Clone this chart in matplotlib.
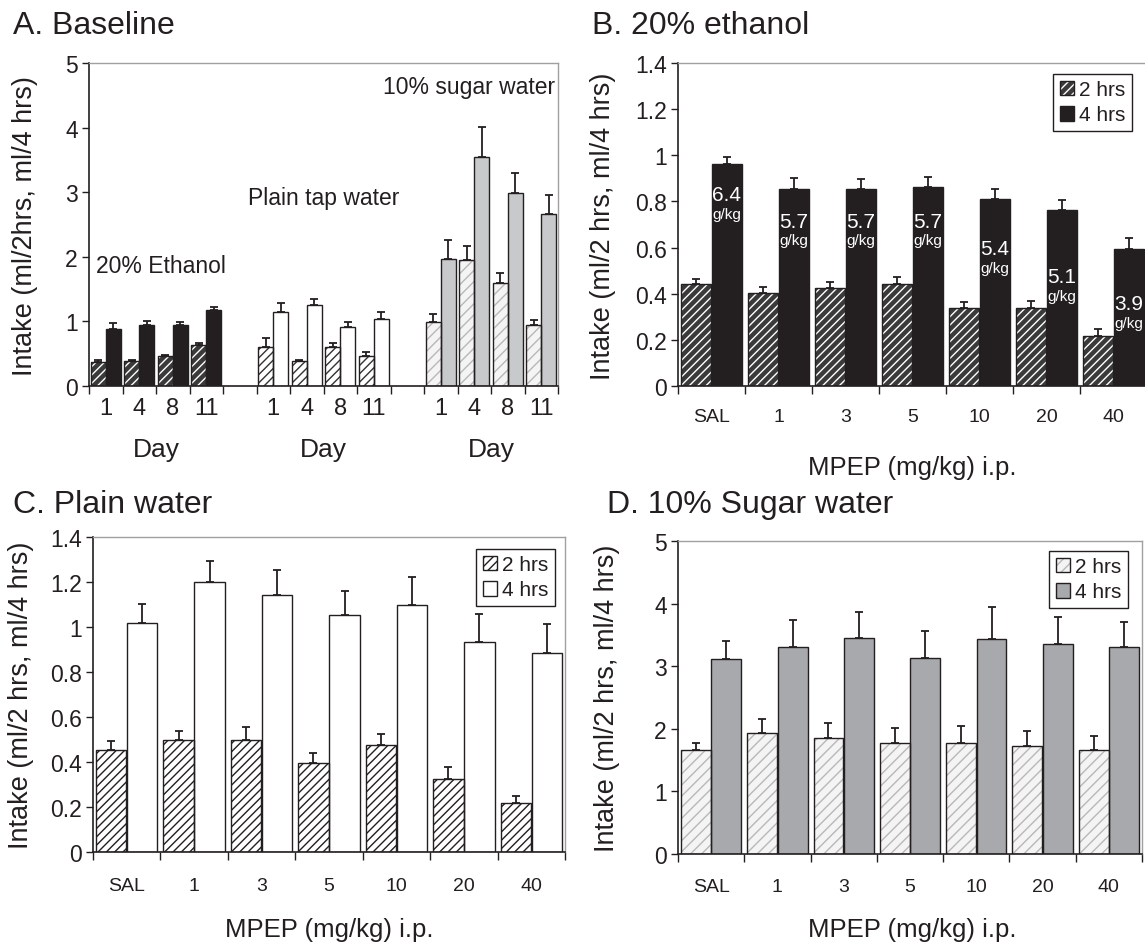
import numpy as np
import matplotlib
matplotlib.use("Agg")
import matplotlib.pyplot as plt
import matplotlib.patches as mpatches
import matplotlib.transforms as mtransforms
from matplotlib.ticker import FixedLocator, FormatStrFormatter

# ---------------------------------------------------------------------------
# DATA
# ---------------------------------------------------------------------------
days = ["1", "4", "8", "11"]
doses = ["SAL", "1", "3", "5", "10", "20", "40"]

# A. Baseline (mean, sem)
eth_2h = [0.37, 0.39, 0.46, 0.64]
eth_2h_sem = [0.03, 0.02, 0.015, 0.03]
eth_4h = [0.89, 0.94, 0.94, 1.17]
eth_4h_sem = [0.08, 0.07, 0.05, 0.06]
wat_2h = [0.61, 0.38, 0.61, 0.47]
wat_2h_sem = [0.13, 0.03, 0.06, 0.06]
wat_4h = [1.14, 1.25, 0.92, 1.04]
wat_4h_sem = [0.14, 0.10, 0.07, 0.11]
sug_2h = [0.99, 1.95, 1.60, 0.94]
sug_2h_sem = [0.13, 0.21, 0.15, 0.08]
sug_4h = [1.96, 3.55, 2.99, 2.66]
sug_4h_sem = [0.30, 0.46, 0.31, 0.30]

# B. 20% ethanol
b_2h = [0.443, 0.404, 0.426, 0.443, 0.337, 0.340, 0.215]
b_2h_sem = [0.019, 0.025, 0.023, 0.031, 0.025, 0.029, 0.031]
b_4h = [0.964, 0.856, 0.853, 0.863, 0.811, 0.763, 0.594]
b_4h_sem = [0.030, 0.044, 0.044, 0.044, 0.045, 0.044, 0.046]
b_gkg = ["6.4", "5.7", "5.7", "5.7", "5.4", "5.1", "3.9"]
b_gkg_y = [0.83, 0.715, 0.715, 0.715, 0.596, 0.475, 0.356]

# C. Plain water
c_2h = [0.452, 0.496, 0.500, 0.394, 0.477, 0.326, 0.218]
c_2h_sem = [0.040, 0.043, 0.057, 0.046, 0.047, 0.052, 0.029]
c_4h = [1.019, 1.200, 1.141, 1.055, 1.099, 0.935, 0.884]
c_4h_sem = [0.085, 0.092, 0.111, 0.104, 0.123, 0.123, 0.128]

# D. 10% Sugar water
d_2h = [1.66, 1.94, 1.86, 1.77, 1.77, 1.73, 1.66]
d_2h_sem = [0.12, 0.21, 0.24, 0.25, 0.27, 0.24, 0.22]
d_4h = [3.12, 3.31, 3.45, 3.13, 3.44, 3.35, 3.31]
d_4h_sem = [0.28, 0.43, 0.41, 0.43, 0.51, 0.44, 0.39]

# ---------------------------------------------------------------------------
# STYLE
# ---------------------------------------------------------------------------
plt.rcParams.update({
    "font.family": ["Liberation Sans", "DejaVu Sans"],
    "hatch.linewidth": 1.0,
    "text.color": "#231f20",
})
INK = "#231f20"
W, H = 1145, 945

# (face, hatch colour or None, hatch pattern)
ETH_2H = ("#3a3a3a", "white", "////")
ETH_4H = (INK, None, None)
WAT_2H = ("white", "#333333", "////")
WAT_4H = ("white", None, None)
SUG_2H = ("#f4f4f4", "#b8b8b8", "///")
SUG_4H_A = ("#c8c9cb", None, None)
SUG_4H_D = ("#a7a9ac", None, None)

TITLE_FS = 23
YLAB_FS = 19.5
XLAB_FS = 18.5
YTICK_FS = 16.5

fig = plt.figure(figsize=(W / 100, H / 100), dpi=100)


def px_axes(l, t, r, b):
    return fig.add_axes([l / W, 1 - b / H, (r - l) / W, (b - t) / H])


def ftext(xp, yp, s, **kw):
    return fig.text(xp / W, 1 - yp / H, s, **kw)


def draw_bars(ax, x, vals, sems, style, width):
    face, hatch_col, hatch = style
    if hatch_col is not None:
        ax.bar(x, vals, width, color=face, edgecolor=hatch_col, hatch=hatch,
               linewidth=0, zorder=2)
        ax.bar(x, vals, width, fill=False, edgecolor=INK, linewidth=1.0, zorder=3)
    else:
        ax.bar(x, vals, width, color=face, edgecolor=INK, linewidth=1.0, zorder=2)
    ax.errorbar(x, vals, yerr=[np.zeros(len(vals)), sems], fmt="none",
                ecolor=INK, elinewidth=1.3, capsize=3, capthick=1.3, zorder=4)


def legend_handle(style):
    face, hatch_col, hatch = style
    if hatch_col is not None:
        p1 = mpatches.Patch(facecolor=face, edgecolor=hatch_col, hatch=hatch, linewidth=0)
        p2 = mpatches.Patch(fill=False, edgecolor=INK, linewidth=1.0)
        return (p1, p2)
    return mpatches.Patch(facecolor=face, edgecolor=INK, linewidth=1.0)


def add_legend(ax, styles, right_px, top_px):
    ax.legend([legend_handle(s) for s in styles], ["2 hrs", "4 hrs"],
              loc="upper right", bbox_to_anchor=(right_px / W, 1 - top_px / H),
              bbox_transform=fig.transFigure, fontsize=15, frameon=True,
              fancybox=False, edgecolor=INK, framealpha=1, handlelength=0.7,
              handleheight=0.7, handletextpad=0.25, borderpad=0.3,
              labelspacing=0.3, borderaxespad=0)


def style_axes(ax, ncat, ymax, ystep, xtick_labels, xfs, xpad):
    ax.set_xlim(-0.5, ncat - 0.5)
    ax.set_ylim(0, ymax)
    for s in ["left", "bottom"]:
        ax.spines[s].set_color(INK)
        ax.spines[s].set_linewidth(1.2)
    for s in ["top", "right"]:
        ax.spines[s].set_color("#a0a0a0")
        ax.spines[s].set_linewidth(1.0)
    ax.set_yticks(np.arange(0, ymax + ystep / 2, ystep))
    ax.yaxis.set_major_formatter(FormatStrFormatter("%g"))
    ax.tick_params(axis="y", direction="out", length=5, width=1, color=INK,
                   labelsize=YTICK_FS, labelcolor=INK, pad=3)
    # tick marks between categories, labels at centres
    ax.xaxis.set_major_locator(FixedLocator(np.arange(-0.5, ncat, 1.0)))
    ax.xaxis.set_minor_locator(FixedLocator(np.arange(ncat)))
    ax.set_xticklabels([], minor=False)
    ax.set_xticklabels(xtick_labels, minor=True)
    ax.tick_params(axis="x", which="major", direction="out", length=6, width=1, color=INK)
    ax.tick_params(axis="x", which="minor", length=0, labelsize=xfs,
                   labelcolor=INK, pad=xpad)
    ax.set_facecolor("none")


# ---------------------------------------------------------------------------
# A. Baseline
# ---------------------------------------------------------------------------
axA = px_axes(89, 64, 558, 387)
wA, offA = 0.44, 0.225
groups = [
    (0, eth_2h, eth_2h_sem, ETH_2H, eth_4h, eth_4h_sem, ETH_4H),
    (5, wat_2h, wat_2h_sem, WAT_2H, wat_4h, wat_4h_sem, WAT_4H),
    (10, sug_2h, sug_2h_sem, SUG_2H, sug_4h, sug_4h_sem, SUG_4H_A),
]
for start, v2, s2, st2, v4, s4, st4 in groups:
    xc = start + np.arange(len(days))
    draw_bars(axA, xc - offA, v2, s2, st2, wA)
    draw_bars(axA, xc + offA, v4, s4, st4, wA)

labelsA = days + [""] + days + [""] + days
style_axes(axA, 14, 5, 1, labelsA, 17, 8)
day_tr = mtransforms.blended_transform_factory(axA.transData, fig.transFigure)
for start in (0, 5, 10):
    axA.text(start + 1.5, 1 - 450 / H, "Day", ha="center", va="center",
             fontsize=19, transform=day_tr, clip_on=False)
axA.text(-0.3, 1.86, "20% Ethanol", ha="left", va="center", fontsize=16.5)
axA.text(4.25, 2.92, "Plain tap water", ha="left", va="center", fontsize=16.5)
axA.text(13.42, 4.63, "10% sugar water", ha="right", va="center", fontsize=16.5)
ftext(25, 226, "Intake (ml/2hrs, ml/4 hrs)", fontsize=YLAB_FS, rotation=90,
      ha="center", va="center")
ftext(13, 26, "A. Baseline", fontsize=TITLE_FS, ha="left", va="center")

# ---------------------------------------------------------------------------
# B. 20% ethanol
# ---------------------------------------------------------------------------
w, off = 0.45, 0.23
x = np.arange(len(doses))

axB = px_axes(678, 64, 1147, 387)
draw_bars(axB, x - off, b_2h, b_2h_sem, ETH_2H, w)
draw_bars(axB, x + off, b_4h, b_4h_sem, ETH_4H, w)
for xi, lab, yy in zip(x, b_gkg, b_gkg_y):
    axB.text(xi + off, yy, lab, color="white", ha="center", va="center",
             fontsize=15, zorder=5)
    axB.text(xi + off, yy - 0.083, "g/kg", color="white", ha="center", va="center",
             fontsize=11, zorder=5)
style_axes(axB, 7, 1.4, 0.2, doses, 14, 16)
ftext(603, 226, "Intake (ml/2 hrs, ml/4 hrs)", fontsize=YLAB_FS, rotation=90,
      ha="center", va="center")
ftext(912, 468, "MPEP (mg/kg) i.p.", fontsize=XLAB_FS, ha="center", va="center")
ftext(592, 26, "B. 20% ethanol", fontsize=TITLE_FS, ha="left", va="center")
add_legend(axB, [ETH_2H, ETH_4H], 1132, 75)

# ---------------------------------------------------------------------------
# C. Plain water
# ---------------------------------------------------------------------------
C_2H = ("white", INK, "////")
axC = px_axes(93, 538, 565, 853)
draw_bars(axC, x - off, c_2h, c_2h_sem, C_2H, w)
draw_bars(axC, x + off, c_4h, c_4h_sem, WAT_4H, w)
style_axes(axC, 7, 1.4, 0.2, doses, 14, 18)
ftext(21, 695, "Intake (ml/2 hrs, ml/4 hrs)", fontsize=YLAB_FS, rotation=90,
      ha="center", va="center")
ftext(329, 930, "MPEP (mg/kg) i.p.", fontsize=XLAB_FS, ha="center", va="center")
ftext(13, 505, "C. Plain water", fontsize=TITLE_FS, ha="left", va="center")
add_legend(axC, [C_2H, WAT_4H], 555, 550)

# ---------------------------------------------------------------------------
# D. 10% Sugar water
# ---------------------------------------------------------------------------
axD = px_axes(678, 542, 1142, 855)
draw_bars(axD, x - off, d_2h, d_2h_sem, SUG_2H, w)
draw_bars(axD, x + off, d_4h, d_4h_sem, SUG_4H_D, w)
style_axes(axD, 7, 5, 1, doses, 14, 17)
ftext(607, 698, "Intake (ml/2 hrs, ml/4 hrs)", fontsize=YLAB_FS, rotation=90,
      ha="center", va="center")
ftext(912, 930, "MPEP (mg/kg) i.p.", fontsize=XLAB_FS, ha="center", va="center")
ftext(607, 505, "D. 10% Sugar water", fontsize=TITLE_FS, ha="left", va="center")
add_legend(axD, [SUG_2H, SUG_4H_D], 1128, 552)

fig.savefig("out.png", dpi=100)
